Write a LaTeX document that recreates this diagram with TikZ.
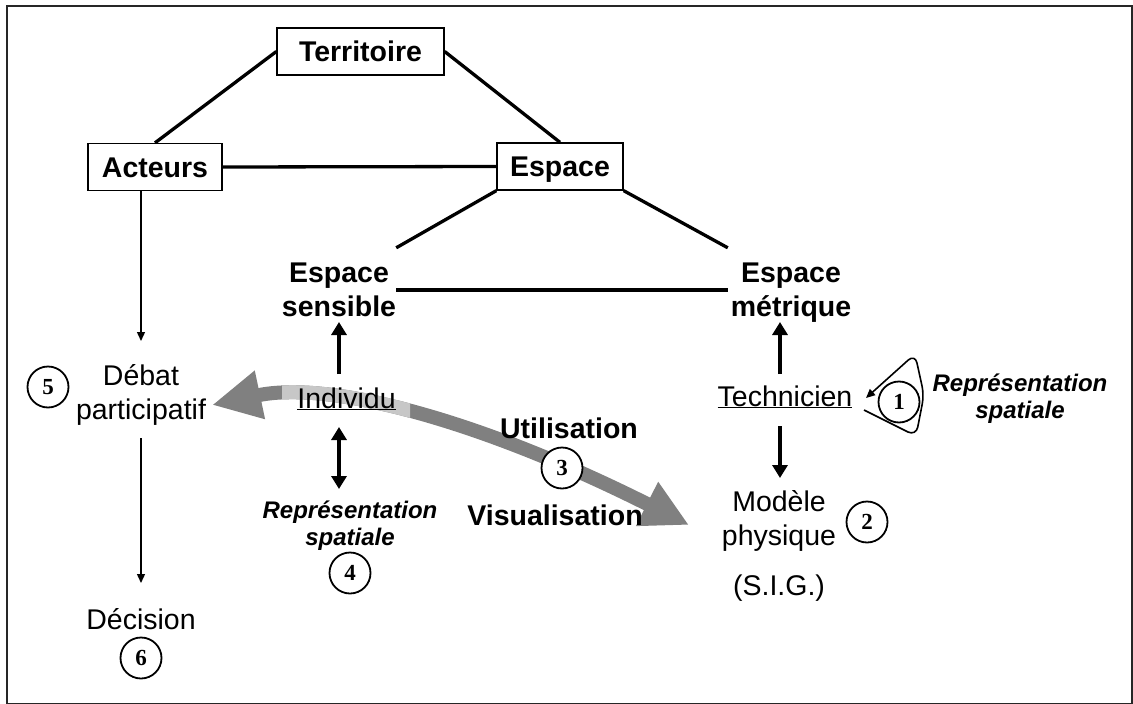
\documentclass[tikz,border=0pt]{standalone}
\usepackage{fontspec}
\setmainfont{Liberation Sans}
\newfontfamily\numfont{Liberation Serif}
\usetikzlibrary{arrows.meta}
\begin{document}
\begin{tikzpicture}[x=1pt,y=-1pt,
  box/.style={draw, line width=1.3pt, font=\bfseries\fontsize{28.5}{32}\selectfont, inner sep=0pt, minimum height=47pt, text height=22pt, text depth=2pt},
  lbl/.style={font=\fontsize{28.5}{34}\selectfont, align=center, inner sep=0pt},
  blbl/.style={font=\bfseries\fontsize{28.5}{34}\selectfont, align=center, inner sep=0pt},
  ital/.style={font=\bfseries\itshape\fontsize{24}{27}\selectfont, align=center, inner sep=0pt},
  num/.style={circle, draw, line width=1.8pt, minimum size=41pt, inner sep=0pt, font=\numfont\bfseries\fontsize{23}{23}\selectfont},
  link/.style={line width=3.3pt},
  thinarrow/.style={line width=1.4pt, -{Triangle[length=9pt,width=8pt]}},
  thickarrow/.style={line width=4pt, -{Triangle[length=13pt,width=15pt]}},
  dblarrow/.style={line width=4pt, {Triangle[length=13pt,width=15pt]}-{Triangle[length=13pt,width=15pt]}},
  bigarrow/.style={line width=14pt, {Triangle[length=49pt,width=46pt]}-{Triangle[length=47pt,width=46pt]}}
]
\useasboundingbox (0,0) rectangle (1133,704);
\draw[line width=2pt, black!85] (7,6) rectangle (1131.5,703.5);

% top triangle
\node[box, minimum width=167pt] (terr) at (360.5,51.5) {Territoire};
\node[box, minimum width=134pt] (act) at (155,167) {Acteurs};
\node[box, minimum width=126pt] (esp) at (560,166.5) {Espace};
\node[blbl, minimum width=112pt, minimum height=94pt] (sens) at (339,295) {Espace\\sensible\strut};
\node[blbl, minimum width=126pt, minimum height=94pt] (metr) at (791,295) {Espace\\métrique\strut};

\draw[link] (terr.west) -- (act.north);
\draw[link] (terr.east) -- (esp.north);
\draw[link] (act.east) -- (esp.west);
\draw[link] (esp.south west) -- (sens.north east);
\draw[link] (esp.south east) -- (metr.north west);
\draw[link] ([yshift=5pt]sens.east) -- ([yshift=5pt]metr.west);

% big gray arrow
\def\bigpath{(212,405) .. controls (330,380) and (480,420) .. (689,525)}
\draw[bigarrow, black!50] \bigpath;
\begin{scope}
  \clip (282,360) rectangle (410,450);
  \draw[bigarrow, black!22] \bigpath;
\end{scope}

% left column
\node[lbl] (deb) at (141,397) {Débat\\participatif\strut};
\node[lbl] (dec) at (141,619) {Décision};
\node[num] (n5) at (48,387) {5};
\node[num] (n6) at (141,658) {6};
\coordinate (actout) at (141,191);
\coordinate (debin) at (141,341);
\coordinate (debout) at (141,438);
\coordinate (decin) at (141,583);
\draw[thinarrow] (actout) -- (debin);
\draw[thinarrow] (debout) -- (decin);

% individu
\node[lbl, anchor=base] (ind) at (346.5,408) {\underline{Individu}};
\coordinate (indup1) at (339,374);
\coordinate (indup2) at (339,322);
\coordinate (inddn1) at (339,427);
\coordinate (inddn2) at (339,489);
\draw[thickarrow] (indup1) -- (indup2);
\draw[dblarrow] (inddn1) -- (inddn2);
\node[ital] (rep4) at (350,527) {Représentation\\spatiale\strut};
\node[num] (n4) at (350,573) {4};

% middle
\node[blbl] (util) at (569,428) {Utilisation};
\node[blbl] (visu) at (555,515) {Visualisation};
\node[num, fill=white] (n3) at (562,468) {3};

% technicien
\node[lbl, anchor=base] (tech) at (785,406) {\underline{Technicien}};
\coordinate (tup1) at (780,374);
\coordinate (tup2) at (780,322);
\coordinate (tdn1) at (780,426);
\coordinate (tdn2) at (780,478);
\draw[thickarrow] (tup1) -- (tup2);
\draw[thickarrow] (tdn1) -- (tdn2);
\node[lbl] (mod) at (779,523) {Modèle\\physique\strut};
\node[lbl] (sig) at (779,588) {(S.I.G.)};
\node[num] (n2) at (867,522) {2};

% loop 1
\node[num] (n1) at (899,402) {1};
\draw[line width=1.6pt, rounded corners=9pt, -{Triangle[length=9pt,width=8pt]}]
  (864,410) -- (916,436) -- (924,395) -- (915,354) -- (866,398);
\node[ital, align=center] (rep1) at (1020,400) {Représentation\\spatiale\strut};
\end{tikzpicture}
\end{document}
